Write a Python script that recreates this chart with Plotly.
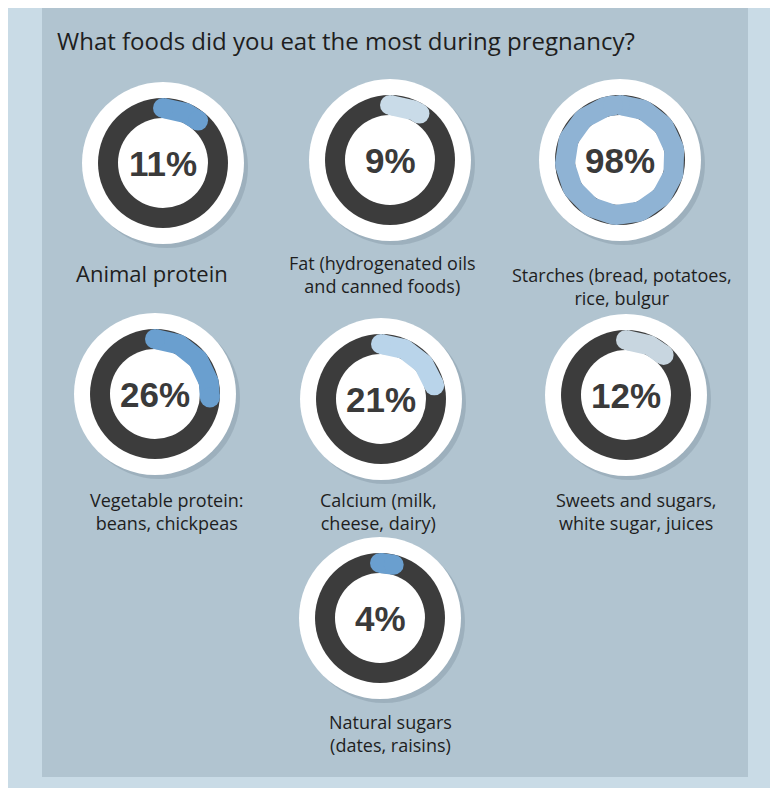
import numpy as np
import plotly.graph_objects as go

labels = ["Animal protein", "Fat (hydrogenated oils<br>and canned foods)", "Starches (bread, potatoes,<br>rice, bulgur",
          "Vegetable protein:<br>beans, chickpeas", "Calcium (milk,<br>cheese, dairy)", "Sweets and sugars,<br>white sugar, juices",
          "Natural sugars<br>(dates, raisins)"]
values = [11, 9, 98, 26, 21, 12, 4]
arc_colors = ["#6b9fcf", "#c9dbe8", "#8fb3d4", "#6a9fcf", "#b9d4ea", "#c8d6e0", "#6a9fcf"]

# layout positions in pixels
centers = [(163, 163), (390, 160), (620, 160), (155, 394), (381, 399), (626, 395), (380, 618)]
label_pos = [(152, 273), (382, 274), (622, 286), (167, 511), (378, 511), (636, 511), (390, 733)]
label_size = [22, 18, 18, 18, 18, 18, 18]

R_OUT, R_RING, R_IN = 81, 65, 45
R_MID = (R_RING + R_IN) / 2
W = R_RING - R_IN
OFF = 8  # page body margin

fig = go.Figure()
shapes = [
    dict(type="rect", x0=-20, x1=800, y0=-20, y1=810, fillcolor="#c9dbe6", line_width=0, layer="below"),
    dict(type="rect", x0=42, x1=748, y0=-20, y1=777, fillcolor="#b1c4d0", line_width=0, layer="below"),
]
for (cx, cy) in centers:
    shapes.append(dict(type="circle", x0=cx - R_OUT + 4, x1=cx + R_OUT + 4, y0=cy - R_OUT + 4, y1=cy + R_OUT + 4,
                       fillcolor="rgba(120,140,155,0.35)", line_width=0, layer="below"))
    shapes.append(dict(type="circle", x0=cx - R_OUT, x1=cx + R_OUT, y0=cy - R_OUT, y1=cy + R_OUT,
                       fillcolor="white", line_width=0, layer="below"))
    shapes.append(dict(type="circle", x0=cx - R_RING, x1=cx + R_RING, y0=cy - R_RING, y1=cy + R_RING,
                       fillcolor="#3c3c3c", line_width=0, layer="below"))
    shapes.append(dict(type="circle", x0=cx - R_IN, x1=cx + R_IN, y0=cy - R_IN, y1=cy + R_IN,
                       fillcolor="white", line_width=0, layer="below"))

for (cx, cy), v, col in zip(centers, values, arc_colors):
    ang = np.linspace(0, 2 * np.pi * v / 100, 120)
    xs = cx + R_MID * np.sin(ang)
    ys = cy - R_MID * np.cos(ang)
    fig.add_trace(go.Scatter(x=xs, y=ys, mode="lines", line=dict(color=col, width=W), hoverinfo="skip"))
    fig.add_trace(go.Scatter(x=[xs[0], xs[-1]], y=[ys[0], ys[-1]], mode="markers",
                             marker=dict(color=col, size=W), hoverinfo="skip"))
    fig.add_annotation(x=cx, y=cy, text="<b>%d%%</b>" % v, showarrow=False,
                       font=dict(family="Liberation Sans, Arial", size=35, color="#3a3a3a"))

for (lx, ly), t, s in zip(label_pos, labels, label_size):
    fig.add_annotation(x=lx, y=ly, text=t, showarrow=False, align="center",
                       font=dict(family="Open Sans", size=s, color="#1e1e1e"))

fig.add_annotation(x=55, y=40, text="What foods did you eat the most during pregnancy?", showarrow=False,
                   xanchor="left", font=dict(family="Open Sans", size=24, color="#1e1e1e"))

fig.update_layout(width=778, height=788, margin=dict(l=0, r=0, t=0, b=0), showlegend=False,
                  shapes=shapes, plot_bgcolor="#b1c4d0", paper_bgcolor="#c9dbe6",
                  xaxis=dict(range=[OFF, 778 + OFF], visible=False, fixedrange=True),
                  yaxis=dict(range=[788 + OFF, OFF], visible=False, fixedrange=True))
fig.write_html("out.html")
